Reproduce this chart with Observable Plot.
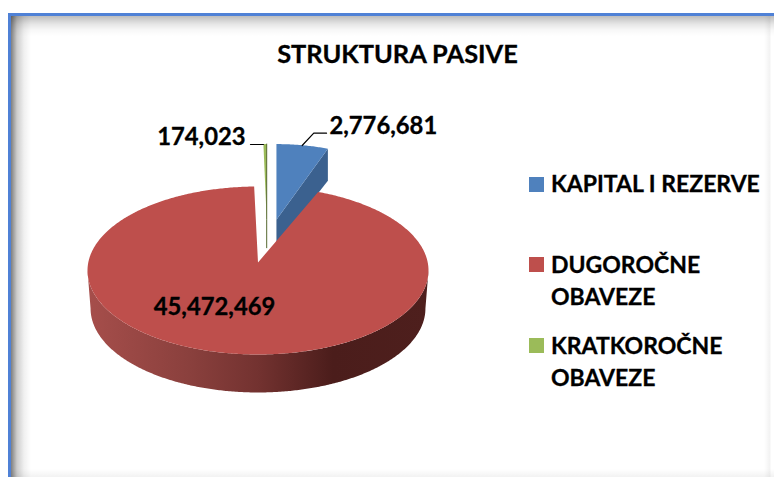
<!DOCTYPE html>
<html>
<head>
<meta charset="utf-8">
<script src="https://cdn.jsdelivr.net/npm/d3@7"></script>
<script src="https://cdn.jsdelivr.net/npm/@observablehq/plot@0.6"></script>
<style>
  html, body { margin: 0; padding: 0; background: #fff; overflow: hidden; }
  #page { position: relative; width: 774px; height: 477px; overflow: hidden; font-family: Lato, sans-serif; font-weight: 700; color: #000; }
  #frame { position: absolute; left: 8px; top: 13px; right: 0; bottom: 0;
    border-left: 3px solid #4f81d6; border-top: 3px solid #4f81d6;
    background:
      linear-gradient(to right, rgba(0,0,0,.5), rgba(0,0,0,.2) 6px, rgba(0,0,0,.06) 13px, transparent 20px),
      linear-gradient(to bottom, rgba(0,0,0,.26), rgba(0,0,0,.1) 8px, rgba(0,0,0,.03) 14px, transparent 20px),
      linear-gradient(to left, transparent 3px, rgba(0,0,0,.05) 4px, transparent 10px),
      linear-gradient(to top, rgba(0,0,0,.05), transparent 8px);
  }
  #chart { position: absolute; left: 0; top: 0; }
  #title { position: absolute; left: 0; top: 34px; width: 795px; text-align: center; font-size: 25.4px; line-height: 38px; -webkit-text-stroke: 0.3px #000; }
  .lg { position: absolute; left: 551px; font-size: 23px; line-height: 32px; white-space: pre; -webkit-text-stroke: 0.3px #000; }
  .sw { position: absolute; left: 529px; width: 15px; height: 15px; }
</style>
</head>
<body>
<div id="page">
  <div id="frame"></div>
  <div id="chart"></div>
  <div id="title"></div>
  <div id="legend"></div>
</div>
<script>
const titleText = "STRUKTURA PASIVE";
const categories = ["KAPITAL I REZERVE", "DUGOROČNE\nOBAVEZE", "KRATKOROČNE\nOBAVEZE"];
const values = [2776681, 45472469, 174023];
const valueLabels = ["2,776,681", "45,472,469", "174,023"];
const topColors = ["#4f81bd", "#be4f4c", "#9bbb59"];
const sideColors = ["#3b618f", "url(#redSide)", "#55682f"];

// layout, in pie units (1 = the large slice's radius)
const blueGeom = {cx: 0.108, cy: 0.649, r: 0.856, apexDy: -0.045, outerDepth: 0.381, apexDepth: 0.315};
const redGeom = {cx: 0, cy: 0, r: 1, apexDy: 0.095, depth: 0.452, bottomScale: 0.982};
const greenGeom = {cx: 0.051, cy: 0.649, r: 0.856, apexDy: -0.045, apexDepth: 0.333};

const arcs = d3.pie().sort(null).startAngle(0).endAngle(2 * Math.PI)(values);
const sample = (a0, a1, step = 0.01) => {
  const n = Math.max(2, Math.ceil(Math.abs(a1 - a0) / step));
  return d3.range(n + 1).map(i => a0 + (a1 - a0) * i / n);
};
const pt = (g, a, dy = 0, s = 1) => ({x: g.cx + g.r * s * Math.sin(a), y: g.cy + g.r * Math.cos(a) - dy});

// blue slice
const bArc = arcs[0];
const blueTop = [...sample(bArc.startAngle, bArc.endAngle).map(a => pt(blueGeom, a)),
                 {x: blueGeom.cx, y: blueGeom.cy + blueGeom.apexDy}];
const bc = pt(blueGeom, bArc.endAngle);
const blueSide = [bc, {x: bc.x, y: bc.y - blueGeom.outerDepth},
                  {x: blueGeom.cx, y: blueGeom.cy + blueGeom.apexDy - blueGeom.apexDepth},
                  {x: blueGeom.cx, y: blueGeom.cy + blueGeom.apexDy}];

// green slice
const gArc = arcs[2];
const greenApex = {x: greenGeom.cx, y: greenGeom.cy + greenGeom.apexDy};
const greenTop = [...sample(gArc.startAngle, gArc.endAngle).map(a => pt(greenGeom, a)), greenApex];
const greenEdge = [pt(greenGeom, gArc.endAngle), greenApex, {x: greenApex.x, y: greenApex.y - greenGeom.apexDepth}];

// red slice
const rArc = arcs[1];
const redTop = [...sample(rArc.startAngle, rArc.endAngle).map(a => pt(redGeom, a)),
                {x: redGeom.cx, y: redGeom.cy + redGeom.apexDy}];
const half = sample(Math.PI / 2, 3 * Math.PI / 2);
const redSide = [...half.map(a => pt(redGeom, a)),
                 ...half.slice().reverse().map(a => pt(redGeom, a, redGeom.depth, redGeom.bottomScale))];

const leaders = [
  [{x: 0.259, y: 1.488}, {x: 0.327, y: 1.635}, {x: 0.402, y: 1.635}],
  [{x: -0.044, y: 1.5}, {x: 0.032, y: 1.5}]
];
const labels = [
  {text: valueLabels[0], x: 0.419, y: 1.714, anchor: "start"},
  {text: valueLabels[1], x: -0.255, y: -0.44, anchor: "middle"},
  {text: valueLabels[2], x: -0.073, y: 1.583, anchor: "end"}
];

const gradient = () => {
  const ns = "http://www.w3.org/2000/svg";
  const defs = document.createElementNS(ns, "defs");
  const lg = document.createElementNS(ns, "linearGradient");
  lg.setAttribute("id", "redSide");
  [[0, "#a64e4b"], [0.3, "#8a403d"], [0.5, "#733230"], [0.72, "#4b1d1b"], [1, "#4e1f1d"]].forEach(([o, c]) => {
    const s = document.createElementNS(ns, "stop");
    s.setAttribute("offset", o);
    s.setAttribute("stop-color", c);
    lg.appendChild(s);
  });
  defs.appendChild(lg);
  return defs;
};

const shape = (data, fill) => Plot.line(data, {x: "x", y: "y", fill, stroke: "none", curve: "linear"});

const plot = Plot.plot({
  width: 774, height: 477,
  margin: 0,
  x: {domain: [-1, 1], range: [87, 428], axis: null},
  y: {domain: [-1, 1], range: [354, 186], axis: null},
  style: {background: "transparent", fontFamily: "Lato, sans-serif", overflow: "visible"},
  marks: [
    gradient,
    shape(blueSide, sideColors[0]),
    shape(blueTop, topColors[0]),
    shape(greenTop, topColors[2]),
    Plot.line(greenEdge, {x: "x", y: "y", stroke: sideColors[2], strokeWidth: 1}),
    shape(redSide, sideColors[1]),
    shape(redTop, topColors[1]),
    ...leaders.map(l => Plot.line(l, {x: "x", y: "y", stroke: "#000", strokeWidth: 1.2})),
    ...labels.map(l => Plot.text([l], {x: "x", y: "y", text: "text", textAnchor: l.anchor,
      fontSize: 23.8, fontWeight: 700, fill: "#000", stroke: "#000", strokeWidth: 0.3}))
  ]
});
document.getElementById("chart").appendChild(plot);
document.getElementById("title").textContent = titleText;

const legendRows = [167, 248, 329];
const swatchTops = [176.5, 256.5, 338];
const legend = document.getElementById("legend");
categories.forEach((c, i) => {
  const sw = document.createElement("div");
  sw.className = "sw";
  sw.style.top = swatchTops[i] + "px";
  sw.style.background = topColors[i];
  legend.appendChild(sw);
  const t = document.createElement("div");
  t.className = "lg";
  t.style.top = legendRows[i] + "px";
  t.textContent = c;
  legend.appendChild(t);
});
</script>
</body>
</html>
